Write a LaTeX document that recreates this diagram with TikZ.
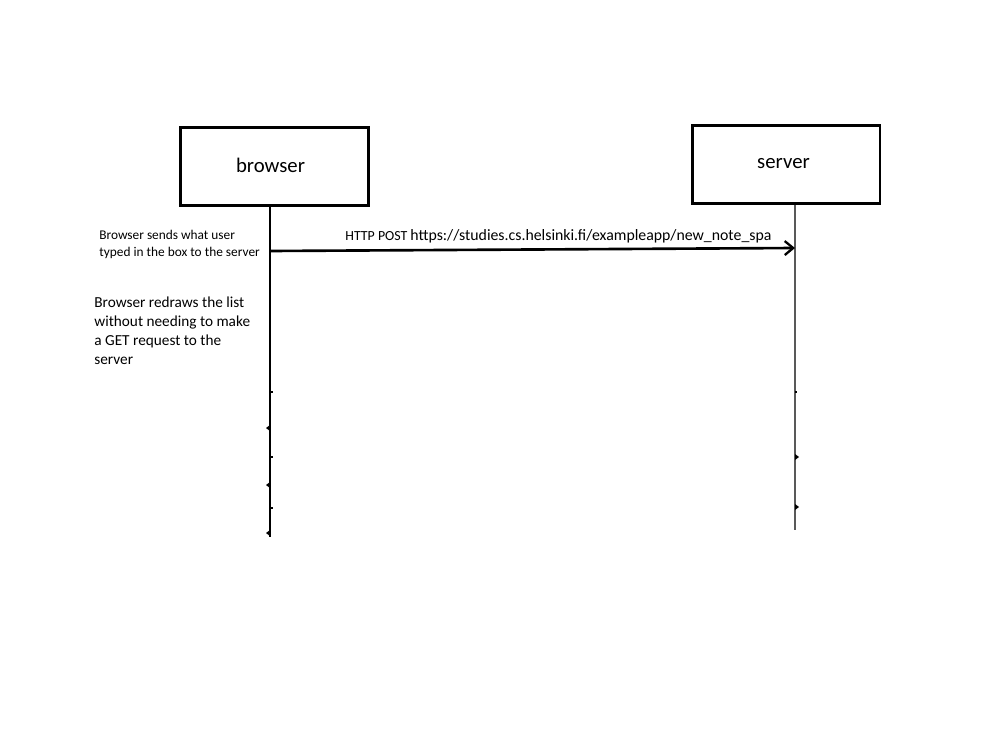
\documentclass[tikz,border=0pt]{standalone}
\usepackage{fontspec}
\setmainfont{Carlito}
\usetikzlibrary{arrows.meta}
\begin{document}
\begin{tikzpicture}[x=0.02cm,y=-0.02cm,
  actor/.style={draw=black,line width=1.7pt,minimum width=3.76cm,minimum height=1.56cm,inner sep=0pt},
  actorname/.style={inner sep=0pt,font=\fontsize{11.8}{14}\selectfont},
  lifeline/.style={line width=1.7pt,black},
  thinlife/.style={line width=1.15pt,black!65},
  message/.style={line width=1.5pt,-{Straight Barb[length=1.7mm,width=2.8mm,line width=1.3pt]}},
  smalltext/.style={anchor=base west,inner sep=0pt,align=left,font=\fontsize{7.6}{9.6}\selectfont},
  bodytext/.style={anchor=base west,inner sep=0pt,align=left,font=\fontsize{8.7}{10.8}\selectfont},
  nub/.style={fill=black}]
\useasboundingbox[fill=white] (0,0) rectangle (1000,750);

% participants
\node[actor] (browser) at (274.5,166.5) {};
\node[actor] (server) at (786,164.5) {};
\node[actorname] (browsername) at (270.5,165.5) {browser};
\node[actorname] (servername) at (783.5,163.5) {server};

% lifelines
\coordinate (bend) at (270,537);
\coordinate (send) at (795,530);
\draw[lifeline] (bend |- browser.south) -- (bend);
\draw[thinlife] (send |- server.south) -- (send);

% small marks along the lifelines
\foreach \y in {428,485,533}
  \fill[nub] (270,\y-3) -- (266,\y) -- (270,\y+3) -- cycle;
\foreach \y in {392,457,508}
  \draw[line width=0.6pt] (270,\y) -- (273,\y);
\draw[line width=0.6pt] (795,392) -- (797,392);
\foreach \y in {457,507}
  \fill[nub] (795,\y-3) -- (799,\y) -- (795,\y+3) -- cycle;

% message
\coordinate (msgfrom) at (270,251);
\coordinate (msgto) at (795,248);
\draw[message] (msgfrom) -- (msgto);
\node[smalltext,font=\fontsize{7.9}{9.6}\selectfont] (post) at (345,240) {HTTP POST};
\node[smalltext,font=\fontsize{9}{10.8}\selectfont] (url) at (410,240) {https://studies.cs.helsinki.fi/exampleapp/new\_note\_spa};

% notes (base anchor sits on the last line)
\node[smalltext] (note1) at (99,256) {Browser sends what user\\typed in the box to the server};
\node[bodytext] (note2) at (94,364) {Browser redraws the list\\without needing to make\\a GET request to the\\server};
\end{tikzpicture}
\end{document}
